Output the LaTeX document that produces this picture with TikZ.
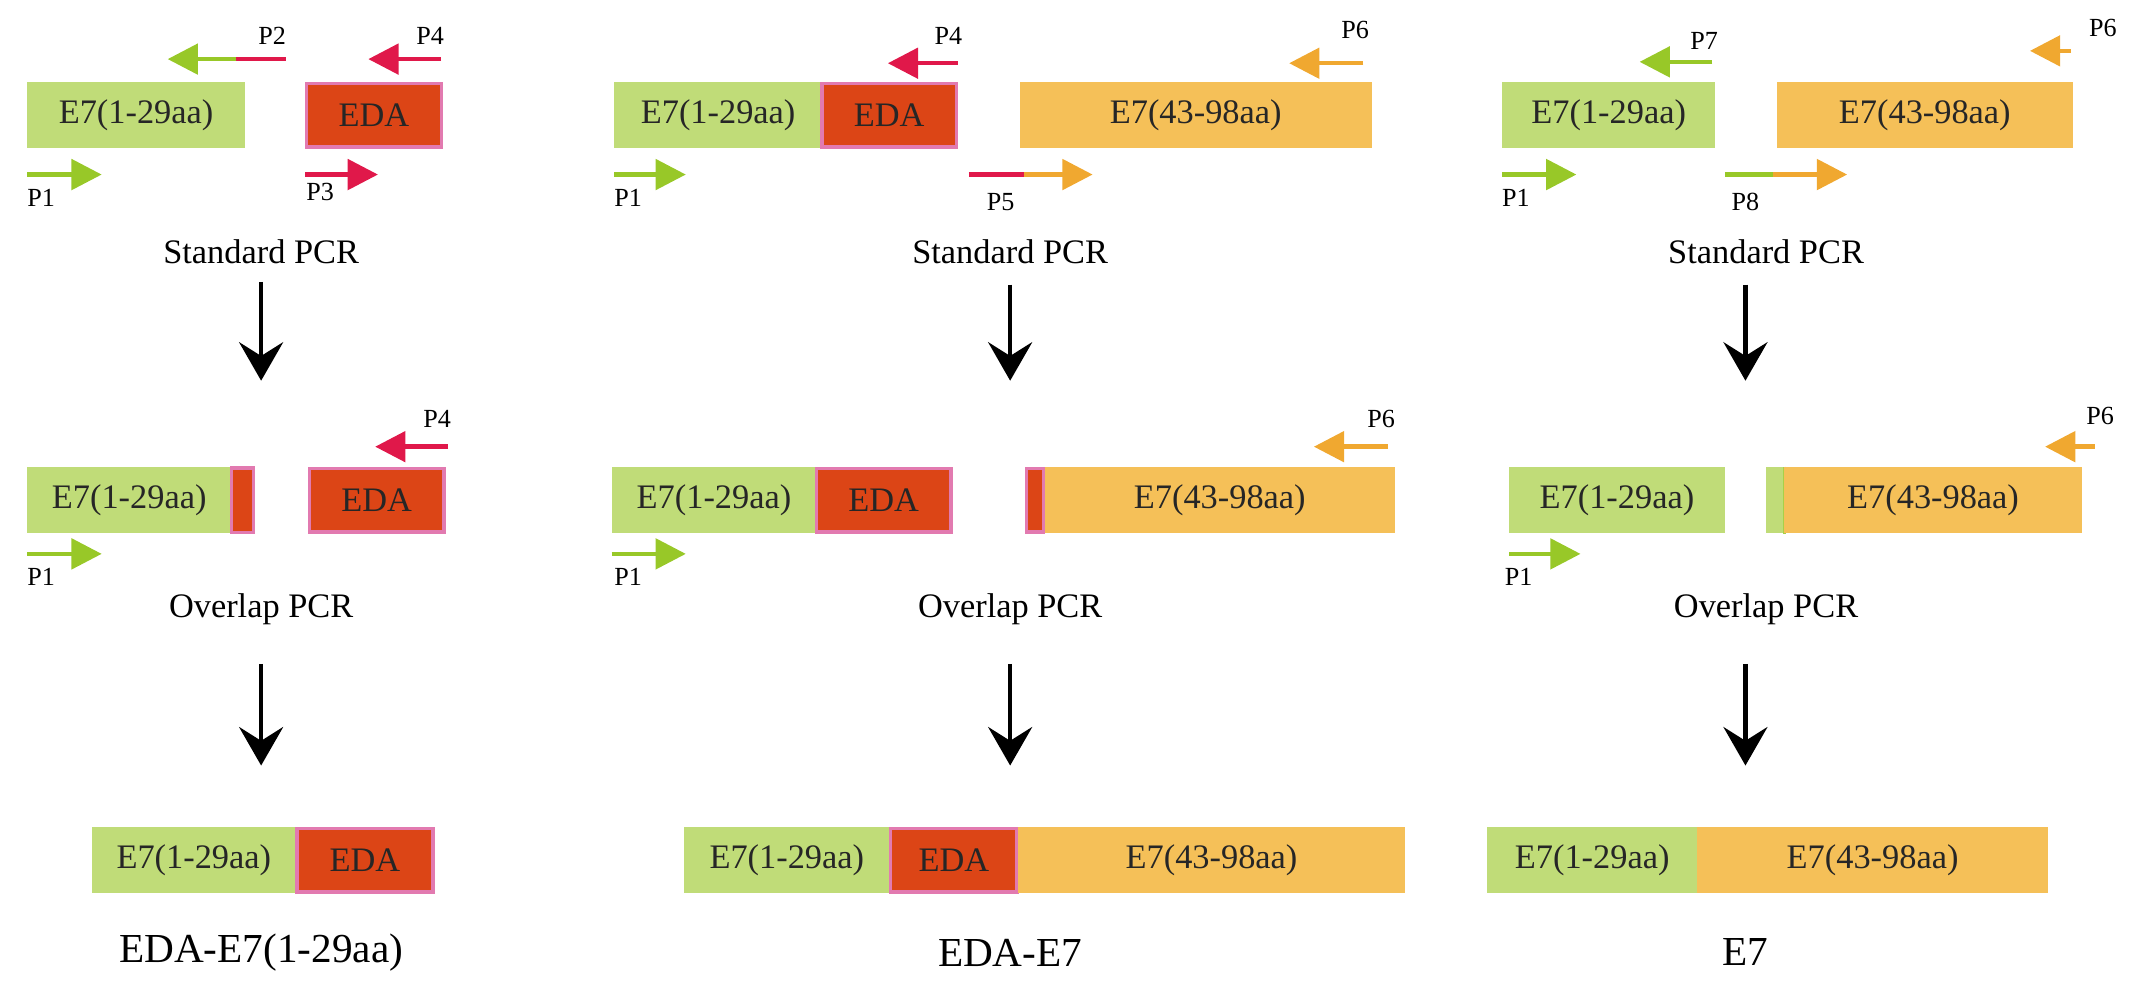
\documentclass[tikz,border=0pt]{standalone}
\usepackage{fontspec}
\setmainfont{Liberation Serif}
\usetikzlibrary{arrows.meta}
\definecolor{gbox}{HTML}{C0DC78}
\definecolor{rbox}{HTML}{DC4516}
\definecolor{pinkb}{HTML}{E27AB0}
\definecolor{obox}{HTML}{F5C058}
\definecolor{garr}{HTML}{98C828}
\definecolor{rarr}{HTML}{E0184A}
\definecolor{oarr}{HTML}{F0A830}
\tikzset{
  seg/.style={inner sep=0pt, font=\fontsize{12.5}{12.5}\selectfont, text=black!85},
  gseg/.style={seg, fill=gbox},
  rseg/.style={seg, fill=rbox, draw=pinkb, line width=1.2pt},
  oseg/.style={seg, fill=obox},
  pr/.style={line width=1.6pt, -{Triangle[length=11pt,width=11pt]}},
  plab/.style={font=\fontsize{9.5}{9.5}\selectfont, inner sep=0pt},
  pcrlab/.style={font=\fontsize{12.5}{12.5}\selectfont},
  fin/.style={font=\fontsize{15}{15}\selectfont},
  down/.style={line width=1.6pt, -{Stealth[length=14pt,width=16pt,inset=5pt]}}
}
\newcommand{\mseg}[7]{\node[#6, minimum width={(#3-#2)*0.5pt-0.001pt}, minimum height={(#5-#4)*0.5pt}] (#1) at ({(#2+#3)/2},{(#4+#5)/2}) {#7};}
\newcommand{\mprim}[5]{\coordinate (#1s) at (#2,#4); \coordinate (#1e) at (#3,#4); \draw[pr,#5] (#1s) -- (#1e);}
\newcommand{\mprimt}[7]{\coordinate (#1s) at (#2,#5); \coordinate (#1m) at (#3,#5); \coordinate (#1e) at (#4,#5); \draw[line width=1.6pt,#6] (#1s) -- (#1m); \draw[pr,#7] (#1m) -- (#1e);}
\begin{document}
\begin{tikzpicture}[x=0.5pt,y=-0.5pt]
\useasboundingbox (0,0) rectangle (1568,724);
% ===== Column 1 =====
\mseg{a1}{20}{178}{60}{108}{gseg}{E7(1-29aa)}
\mseg{a2}{223}{321}{61}{107}{rseg}{EDA}
\mprimt{p2}{208}{172}{122}{43}{rarr}{garr}
\node[plab] (lp2) at (198,26) {P2};
\mprim{p4a}{321}{268}{43}{rarr}
\node[plab] (lp4a) at (313,26) {P4};
\mprim{p1a}{20}{74}{127}{garr}
\node[plab] (lp1a) at (30,144) {P1};
\mprim{p3}{222}{275}{127}{rarr}
\node[plab] (lp3) at (233,140) {P3};
\node[pcrlab] (sa) at (190,183) {Standard PCR};
\coordinate (da1) at (190,205); \coordinate (da2) at (190,277);
\draw[down] (da1) -- (da2);
\mseg{b1}{20}{168}{340}{388}{gseg}{E7(1-29aa)}
\mseg{b2}{168.5}{184.5}{340.5}{387.5}{rseg}{}
\mseg{b3}{225}{323}{341}{387}{rseg}{EDA}
\mprim{p4b}{326}{273}{325}{rarr}
\node[plab] (lp4b) at (318,305) {P4};
\mprim{p1b}{20}{74}{403}{garr}
\node[plab] (lp1b) at (30,420) {P1};
\node[pcrlab] (oa) at (190,443) {Overlap PCR};
\coordinate (db1) at (190,483); \coordinate (db2) at (190,557);
\draw[down] (db1) -- (db2);
\mseg{c1}{67}{215}{602}{650}{gseg}{E7(1-29aa)}
\mseg{c2}{216}{315}{603}{649}{rseg}{EDA}
\node[fin] (fa) at (190,693) {EDA-E7(1-29aa)};
% ===== Column 2 =====
\mseg{d1}{447}{598}{60}{108}{gseg}{E7(1-29aa)}
\mseg{d2}{598}{696}{61}{107}{rseg}{EDA}
\mseg{d3}{742}{998}{60}{108}{oseg}{E7(43-98aa)}
\mprim{p4c}{697}{646}{46}{rarr}
\node[plab] (lp4c) at (690,26) {P4};
\mprim{p6a}{992}{938}{46}{oarr}
\node[plab] (lp6a) at (986,22) {P6};
\mprim{p1c}{447}{499}{127}{garr}
\node[plab] (lp1c) at (457,144) {P1};
\mprimt{p5}{705}{745}{795}{127}{rarr}{oarr}
\node[plab] (lp5) at (728,147) {P5};
\node[pcrlab] (sb) at (735,183) {Standard PCR};
\coordinate (dc1) at (735,207); \coordinate (dc2) at (735,277);
\draw[down] (dc1) -- (dc2);
\mseg{e1}{445}{594}{340}{388}{gseg}{E7(1-29aa)}
\mseg{e2}{594}{692}{341}{387}{rseg}{EDA}
\mseg{e3}{747}{759}{341}{387}{rseg}{}
\mseg{e4}{760}{1015}{340}{388}{oseg}{E7(43-98aa)}
\mprim{p6b}{1010}{956}{325}{oarr}
\node[plab] (lp6b) at (1005,305) {P6};
\mprim{p1d}{445}{499}{403}{garr}
\node[plab] (lp1d) at (457,420) {P1};
\node[pcrlab] (ob) at (735,443) {Overlap PCR};
\coordinate (dd1) at (735,483); \coordinate (dd2) at (735,557);
\draw[down] (dd1) -- (dd2);
\mseg{f1}{498}{647}{602}{650}{gseg}{E7(1-29aa)}
\mseg{f2}{648}{740}{603}{649}{rseg}{EDA}
\mseg{f3}{741}{1022}{602}{650}{oseg}{E7(43-98aa)}
\node[fin] (fb) at (735,693) {EDA-E7};
% ===== Column 3 =====
\mseg{g1}{1093}{1248}{60}{108}{gseg}{E7(1-29aa)}
\mseg{g2}{1293}{1508}{60}{108}{oseg}{E7(43-98aa)}
\mprim{p7}{1246}{1193}{45}{garr}
\node[plab] (lp7) at (1240,30) {P7};
\mprim{p6c}{1507}{1477}{37}{oarr}
\node[plab] (lp6c) at (1530,20) {P6};
\mprim{p1e}{1093}{1147}{127}{garr}
\node[plab] (lp1e) at (1103,144) {P1};
\mprimt{p8}{1255}{1290}{1344}{127}{garr}{oarr}
\node[plab] (lp8) at (1270,147) {P8};
\node[pcrlab] (sc) at (1285,183) {Standard PCR};
\coordinate (de1) at (1270,207); \coordinate (de2) at (1270,277);
\draw[down] (de1) -- (de2);
\mseg{h1}{1098}{1255}{340}{388}{gseg}{E7(1-29aa)}
\mseg{h2}{1285}{1298}{340}{388}{gseg}{}
\draw[garr!60!gbox,line width=1pt] (h2.north east) -- (h2.south east);
\mseg{h3}{1298}{1515}{340}{388}{oseg}{E7(43-98aa)}
\mprim{p6d}{1524}{1488}{325}{oarr}
\node[plab] (lp6d) at (1528,303) {P6};
\mprim{p1f}{1098}{1150}{403}{garr}
\node[plab] (lp1f) at (1105,420) {P1};
\node[pcrlab] (oc) at (1285,443) {Overlap PCR};
\coordinate (df1) at (1270,483); \coordinate (df2) at (1270,557);
\draw[down] (df1) -- (df2);
\mseg{i1}{1082}{1235}{602}{650}{gseg}{E7(1-29aa)}
\mseg{i2}{1235}{1490}{602}{650}{oseg}{E7(43-98aa)}
\node[fin] (fc) at (1270,693) {E7};
\end{tikzpicture}
\end{document}
